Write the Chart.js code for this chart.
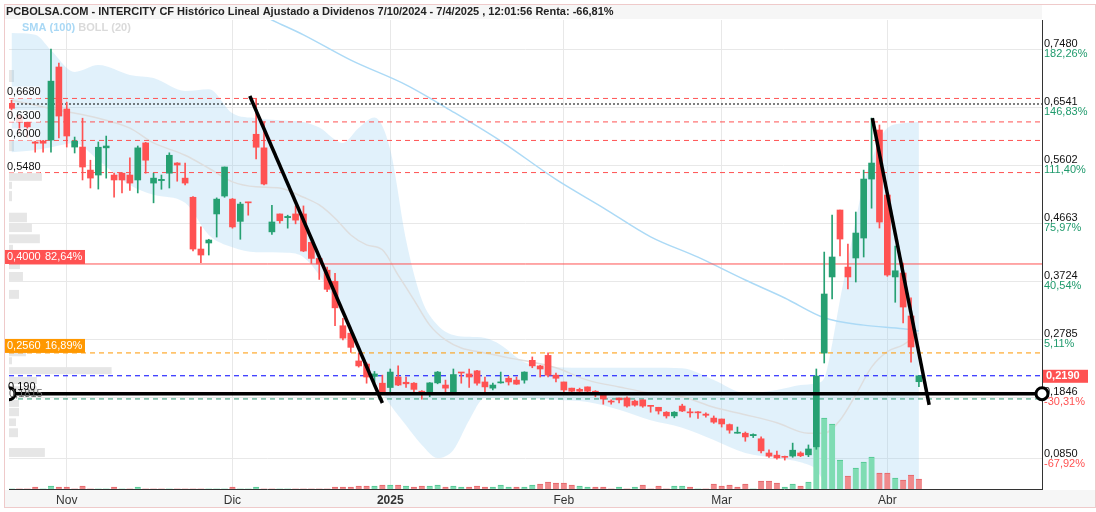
<!DOCTYPE html>
<html>
<head>
<meta charset="utf-8">
<title>INTERCITY - PCBOLSA</title>
<script src="https://cdn.jsdelivr.net/npm/chart.js@4.4.1/dist/chart.umd.min.js"></script>
<style>
  html, body { margin: 0; padding: 0; background: #fff; }
  #wrap { position: relative; width: 1096px; height: 512px; }
</style>
</head>
<body>
<div id="wrap"><canvas id="grafico" width="1096" height="512"></canvas></div>
<script>
// x = indice de sesion (0 = 1 nov 2024), y = precio en euros
var firstDay = -7;

var openP = [0.660,0.640,0.630,0.5975,0.599,0.6007,0.7189,0.6509,0.5893,0.5893,0.552,0.544,0.588,0.544,0.547,0.544,0.536,0.596,0.531,0.535,0.547,0.5635,0.539,0.508,0.4242,0.434,0.481,0.510,0.505,0.469,0.500,0.610,0.588,0.452,0.481,0.475,0.481,0.481,0.435,0.409,0.390,0.372,0.300,0.288,0.243,0.238,0.218,0.207,0.200,0.217,0.2085,0.207,0.194,0.191,0.2075,0.204,0.191,0.2245,0.222,0.227,0.209,0.199,0.2075,0.215,0.212,0.212,0.244,0.235,0.252,0.220,0.209,0.199,0.197,0.201,0.194,0.188,0.1775,0.183,0.183,0.178,0.180,0.1705,0.168,0.160,0.154,0.170,0.1605,0.1605,0.157,0.1505,0.149,0.140,0.126,0.126,0.122,0.117,0.094,0.0905,0.088,0.089,0.094,0.091,0.104,0.2558,0.379,0.4874,0.395,0.4097,0.442,0.5375,0.6169,0.5116,0.379,0.3854,0.3158,0.2094];
var highP = [0.665,0.642,0.631,0.5985,0.600,0.748,0.7253,0.662,0.6055,0.636,0.568,0.5975,0.6071,0.547,0.548,0.572,0.591,0.597,0.547,0.544,0.580,0.564,0.5635,0.509,0.460,0.440,0.507,0.557,0.506,0.500,0.500,0.667,0.630,0.495,0.481,0.479,0.494,0.494,0.436,0.412,0.395,0.385,0.312,0.290,0.256,0.240,0.226,0.220,0.230,0.235,0.217,0.208,0.195,0.208,0.226,0.212,0.230,0.2245,0.230,0.228,0.217,0.207,0.225,0.218,0.217,0.2255,0.2495,0.236,0.256,0.2235,0.209,0.199,0.199,0.201,0.195,0.190,0.180,0.183,0.185,0.1795,0.180,0.171,0.168,0.161,0.161,0.173,0.166,0.161,0.159,0.154,0.149,0.141,0.136,0.128,0.125,0.120,0.099,0.097,0.089,0.110,0.096,0.107,0.230,0.4193,0.4793,0.4874,0.4323,0.4841,0.552,0.6363,0.625,0.515,0.429,0.4016,0.345,0.219];
var lowP = [0.640,0.612,0.605,0.581,0.581,0.581,0.604,0.5893,0.5797,0.536,0.523,0.5213,0.539,0.508,0.515,0.519,0.515,0.547,0.499,0.521,0.523,0.534,0.528,0.421,0.402,0.4145,0.4436,0.508,0.458,0.440,0.479,0.570,0.528,0.448,0.466,0.458,0.465,0.420,0.401,0.375,0.355,0.300,0.277,0.257,0.233,0.207,0.208,0.190,0.191,0.203,0.200,0.190,0.181,0.185,0.206,0.191,0.190,0.207,0.200,0.204,0.191,0.196,0.207,0.204,0.205,0.207,0.232,0.217,0.217,0.209,0.193,0.192,0.190,0.190,0.185,0.173,0.173,0.175,0.168,0.170,0.168,0.160,0.157,0.1505,0.151,0.161,0.152,0.150,0.152,0.142,0.136,0.126,0.126,0.113,0.119,0.094,0.087,0.084,0.0825,0.087,0.088,0.088,0.100,0.2397,0.3433,0.4129,0.3595,0.3708,0.4113,0.4903,0.4582,0.380,0.338,0.3044,0.241,0.2013];
var closeP = [0.652,0.630,0.622,0.5955,0.5955,0.696,0.6395,0.6072,0.599,0.557,0.5391,0.589,0.591,0.536,0.536,0.531,0.588,0.568,0.539,0.537,0.576,0.5602,0.531,0.4242,0.4145,0.4388,0.505,0.557,0.460,0.497,0.499,0.589,0.5295,0.468,0.470,0.477,0.471,0.421,0.409,0.400,0.359,0.329,0.280,0.265,0.235,0.217,0.222,0.191,0.225,0.204,0.206,0.197,0.191,0.2075,0.225,0.199,0.221,0.2235,0.217,0.207,0.201,0.204,0.2085,0.209,0.2055,0.225,0.235,0.230,0.220,0.215,0.196,0.194,0.194,0.194,0.191,0.1814,0.1765,0.180,0.170,0.1715,0.170,0.1695,0.162,0.154,0.160,0.162,0.159,0.159,0.155,0.144,0.141,0.131,0.127,0.120,0.124,0.0975,0.089,0.086,0.087,0.0985,0.0895,0.1005,0.2186,0.3514,0.4113,0.4404,0.379,0.4501,0.5375,0.5634,0.4679,0.3821,0.389,0.3303,0.2656,0.219];
// volumen en miles de titulos
var volK = [0,0,0,20,0,30,20,20,0,30,0,0,0,20,0,0,20,0,0,0,0,0,0,0,0,0,0,0,20,0,0,20,0,0,0,0,0,0,0,0,0,20,20,20,30,30,30,40,40,40,30,20,30,30,40,20,30,20,20,30,20,20,40,20,20,20,40,50,70,60,60,40,30,20,20,20,0,20,0,20,40,0,30,0,30,30,20,0,0,50,30,40,20,50,0,80,80,60,20,50,30,70,1000,710,650,290,130,210,270,320,160,160,110,90,140,100];

var monthIdx = [0, 21, 41, 63, 83, 104];
var monthLbl = ['Nov', 'Dic', '2025', 'Feb', 'Mar', 'Abr'];

var yTicks = [0.748, 0.6541, 0.5602, 0.4663, 0.3724, 0.2785, 0.1846, 0.085];
var yPct = ['182,26%', '146,83%', '111,40%', '75,97%', '40,54%', '5,11%', '-30,31%', '-67,92%'];

// Bandas de Bollinger (20) y SMA (100)
var bandX = [-7,-4,-2,1,4,8,11,15,18,21,24,28,30,32,35,37,39,41,43,45,47,49,51,53,55,58,62,66,70,74,78,82,86,90,93,95,96,97,98,99,100,101,102,103,104,106,108];
var bandUp = [0.774,0.771,0.746,0.711,0.722,0.706,0.701,0.680,0.683,0.644,0.636,0.632,0.630,0.621,0.596,0.620,0.637,0.585,0.439,0.342,0.301,0.285,0.282,0.280,0.269,0.241,0.233,0.232,0.232,0.232,0.231,0.212,0.191,0.196,0.204,0.207,0.215,0.270,0.342,0.406,0.471,0.531,0.568,0.601,0.620,0.628,0.630];
var bandLo = [0.581,0.5845,0.589,0.596,0.568,0.528,0.512,0.499,0.447,0.427,0.419,0.418,0.411,0.382,0.317,0.269,0.212,0.172,0.139,0.107,0.086,0.099,0.147,0.183,0.183,0.183,0.180,0.1765,0.164,0.147,0.135,0.115,0.094,0.086,0.079,0.0665,0.045,0.018,0,-0.02,-0.04,-0.06,-0.07,-0.06,-0.05,-0.04,-0.03];
var midX = [-7,-1,4,8,11,15,18,21,24,27,30,32,34,36,38,40,42,44,46,48,50,53,56,59,62,66,70,74,78,82,86,90,94,96,98,100,102,104,106,108];
var midY = [0.665,0.649,0.636,0.620,0.596,0.576,0.555,0.533,0.525,0.523,0.508,0.4955,0.474,0.447,0.431,0.423,0.382,0.342,0.301,0.277,0.264,0.256,0.248,0.241,0.232,0.212,0.201,0.191,0.185,0.168,0.156,0.143,0.126,0.126,0.147,0.188,0.233,0.258,0.269,0.288];
var smaX = [24,26,30,36,43,49,55,62,68,74,80,86,91,96,101,106,108];
var smaY = [0.808,0.795,0.771,0.730,0.690,0.646,0.599,0.537,0.491,0.444,0.411,0.374,0.345,0.313,0.301,0.295,0.2915];

// perfil de volumen por precio (izquierda)
var profLo = [0.693,0.581,0.533,0.520,0.500,0.466,0.450,0.432,0.419,0.390,0.371,0.342,0.249,0.236,0.220,0.204,0.191,0.167,0.152,0.136,0.118,0.086];
var profHi = [0.714,0.599,0.547,0.533,0.518,0.483,0.466,0.448,0.431,0.402,0.387,0.358,0.257,0.249,0.233,0.217,0.202,0.180,0.167,0.150,0.134,0.102];
var profVol = [5,5,33,3,3,18,23,31,4,11,14,10,17,3,103,28,28,10,10,7,9,36];

// niveles horizontales
var redLevels = [0.668, 0.63, 0.60, 0.548];
var redLabels = ['0,6680', '0,6300', '0,6000', '0,5480'];
var dottedLevel = 0.659;
var supportLevel = 0.40;
var orangeLevel = 0.256;
var lastPrice = 0.219;
var greenLevel = 0.1815;
var blackLevel = 0.190;

// lineas de tendencia dibujadas
var trendA = [{ x: 23.2, y: 0.672 }, { x: 40.0, y: 0.175 }];
var trendB = [{ x: 102.1, y: 0.636 }, { x: 109.3, y: 0.172 }];

var xMin = -7.32, xMax = 123.6;
var yMin = 0.0357, yMax = 0.795;

var UP = '#26a072';
var DOWN = '#ff5252';

Chart.defaults.font.family = "'Liberation Sans', Arial, sans-serif";

var days = openP.map(function (v, i) { return firstDay + i; });

function pts(xs, ys) {
    return xs.map(function (x, i) { return { x: x, y: ys[i] }; });
}

function levelLine(v, color, dash, width) {
    return {
        type: 'line', data: [{ x: xMin, y: v }, { x: xMax, y: v }],
        borderColor: color, borderDash: dash, borderWidth: width || 1,
        pointRadius: 0, order: 5
    };
}

function fmt(v) {
    return v.toFixed(4).replace('.', ',');
}

var fondo = {
    id: 'fondo',
    beforeDraw: function (chart) {
        var c = chart.ctx;
        c.save();
        c.fillStyle = '#fff';
        c.fillRect(0, 0, chart.width, chart.height);
        c.fillStyle = '#f6f6f6';
        c.fillRect(5, 5, 1037, 14);
        c.fillRect(5, 490, 1091, 17);
        c.strokeStyle = '#efcaca';
        c.lineWidth = 1;
        c.strokeRect(4.5, 4.5, 1091, 503);
        c.restore();
    }
};

var perfil = {
    id: 'perfil',
    beforeDatasetsDraw: function (chart) {
        var c = chart.ctx, y = chart.scales.y, xp = chart.scales.xp;
        c.save();
        c.fillStyle = '#e6e6e6';
        profVol.forEach(function (w, k) {
            var y0 = y.getPixelForValue(profHi[k]);
            var y1 = y.getPixelForValue(profLo[k]);
            var x0 = xp.getPixelForValue(0);
            c.fillRect(x0, y0, xp.getPixelForValue(w) - x0, y1 - y0 - 1);
        });
        c.restore();
    }
};

var textos = {
    id: 'textos',
    afterDraw: function (chart) {
        var c = chart.ctx, y = chart.scales.y, area = chart.chartArea;
        c.save();
        c.textBaseline = 'middle';
        c.textAlign = 'left';

        c.font = "bold 11px 'Liberation Sans', Arial, sans-serif";
        c.fillStyle = '#222';
        c.fillText('PCBOLSA.COM - INTERCITY CF Histórico Lineal Ajustado a Dividenos 7/10/2024 - 7/4/2025 , 12:01:56 Renta: -66,81%', 6, 12);

        c.fillStyle = '#a9d8f5';
        c.fillText('SMA (100)', 22, 28);
        var w = c.measureText('SMA (100) ').width;
        c.fillStyle = '#dadada';
        c.fillText('BOLL (20)', 22 + w, 28);

        // etiquetas de niveles a la izquierda
        c.font = "11px 'Liberation Sans', Arial, sans-serif";
        redLevels.forEach(function (v, k) {
            var py = y.getPixelForValue(v) - 6;
            c.fillStyle = 'rgba(255,255,255,0.8)';
            c.fillRect(6, py - 6, 34, 12);
            c.fillStyle = '#111';
            c.fillText(redLabels[k], 7, py);
        });

        var py = y.getPixelForValue(supportLevel);
        c.fillStyle = '#ff5252';
        c.fillRect(5, py - 14, 80, 14);
        c.fillStyle = '#fff';
        c.fillText(fmt(supportLevel), 7, py - 7);
        c.fillText('82,64%', 45, py - 7);

        py = y.getPixelForValue(orangeLevel);
        c.fillStyle = '#ff9800';
        c.fillRect(5, py - 14, 80, 14);
        c.fillStyle = '#fff';
        c.fillText(fmt(orangeLevel), 7, py - 7);
        c.fillText('16,89%', 45, py - 7);

        py = y.getPixelForValue(greenLevel);
        c.fillStyle = '#666';
        c.fillText('0,1815', 9, py - 5);
        py = y.getPixelForValue(blackLevel);
        c.fillStyle = '#000';
        c.fillText('0,190', 8, py - 7);

        // porcentajes del eje derecho
        yTicks.forEach(function (v, k) {
            c.fillStyle = yPct[k].charAt(0) === '-' ? '#ff5252' : '#1f9a6c';
            c.fillText(yPct[k], area.right + 2, y.getPixelForValue(v) + 5);
        });

        // ultimo precio
        py = y.getPixelForValue(lastPrice);
        c.fillStyle = '#ff5252';
        c.fillRect(area.right + 1, py - 6, 45, 13);
        c.fillStyle = '#fff';
        c.font = "bold 11px 'Liberation Sans', Arial, sans-serif";
        c.fillText(fmt(lastPrice), area.right + 4, py + 0.5);
        c.restore();
    }
};

var datasets = [
    {
        type: 'bar', label: 'cuerpo',
        data: days.map(function (d, i) { return { x: d, y: [openP[i], closeP[i]] }; }),
        backgroundColor: function (ctx) { var i = ctx.dataIndex; return closeP[i] >= openP[i] ? UP : DOWN; },
        barThickness: 6, minBarLength: 1, grouped: false, order: 1
    },
    {
        type: 'bar', label: 'mecha',
        data: days.map(function (d, i) { return { x: d, y: [lowP[i], highP[i]] }; }),
        backgroundColor: function (ctx) { var i = ctx.dataIndex; return closeP[i] >= openP[i] ? UP : DOWN; },
        barThickness: 1, grouped: false, order: 2
    },
    {
        type: 'bar', label: 'volumen', yAxisID: 'yv',
        data: days.map(function (d, i) { return { x: d, y: volK[i] }; }),
        backgroundColor: function (ctx) {
            var i = ctx.dataIndex;
            return (i === 0 || closeP[i] >= closeP[i - 1]) ? '#7fdcb3' : '#f08a8c';
        },
        borderColor: function (ctx) {
            var i = ctx.dataIndex;
            return (i === 0 || closeP[i] >= closeP[i - 1]) ? '#4fc690' : '#e56368';
        },
        borderWidth: { top: 1, left: 0, right: 0, bottom: 0 },
        barThickness: 6, grouped: false, order: 6
    },
    {
        type: 'line', label: 'boll sup', data: pts(bandX, bandUp),
        borderWidth: 0, pointRadius: 0, cubicInterpolationMode: 'monotone', order: 10
    },
    {
        type: 'line', label: 'boll inf', data: pts(bandX, bandLo),
        borderWidth: 0, pointRadius: 0, cubicInterpolationMode: 'monotone',
        fill: '-1', backgroundColor: 'rgba(135,200,240,0.25)', order: 10
    },
    {
        type: 'line', label: 'boll media', data: pts(midX, midY),
        borderColor: '#dedede', borderWidth: 1.5, pointRadius: 0, cubicInterpolationMode: 'monotone', order: 8
    },
    {
        type: 'line', label: 'SMA 100', data: pts(smaX, smaY),
        borderColor: '#acdaf6', borderWidth: 1.5, pointRadius: 0, cubicInterpolationMode: 'monotone', order: 8
    },
    levelLine(redLevels[0], '#ff5252', [5, 4]),
    levelLine(redLevels[1], '#ff5252', [5, 4]),
    levelLine(redLevels[2], '#ff5252', [5, 4]),
    levelLine(redLevels[3], '#ff5252', [5, 4]),
    levelLine(dottedLevel, '#000', [2, 2]),
    levelLine(supportLevel, '#ff5252', []),
    levelLine(orangeLevel, '#ff9800', [5, 4]),
    levelLine(lastPrice, '#0000ff', [5, 4]),
    levelLine(greenLevel, '#2a9a70', [5, 4]),
    {
        type: 'line', label: 'soporte', data: [{ x: xMin, y: blackLevel }, { x: xMax, y: blackLevel }],
        borderColor: '#000', borderWidth: 3.5,
        pointRadius: 6, pointBorderWidth: 3, pointBorderColor: '#000', pointBackgroundColor: '#fff',
        clip: { left: 0, top: 5, right: 12, bottom: 5 }, order: 0
    },
    {
        type: 'line', label: 'tendencia 1', data: trendA,
        borderColor: '#000', borderWidth: 3.5, pointRadius: 0, order: 0
    },
    {
        type: 'line', label: 'tendencia 2', data: trendB,
        borderColor: '#000', borderWidth: 3.5, pointRadius: 0, order: 0
    }
];

var grafico = new Chart(document.getElementById('grafico'), {
    type: 'bar',
    data: { datasets: datasets },
    plugins: [fondo, perfil, textos],
    options: {
        responsive: false,
        animation: false,
        events: [],
        layout: { padding: { top: 20, left: 5, right: 0, bottom: 0 } },
        plugins: { legend: { display: false }, tooltip: { enabled: false } },
        scales: {
            x: {
                type: 'linear', min: xMin, max: xMax, offset: false,
                afterBuildTicks: function (s) { s.ticks = monthIdx.map(function (v) { return { value: v }; }); },
                afterFit: function (s) { s.height = 23; },
                ticks: {
                    autoSkip: false, maxRotation: 0, padding: 4, color: '#333',
                    callback: function (v) { return monthLbl[monthIdx.indexOf(v)]; },
                    font: function (ctx) {
                        return { size: 12, weight: (ctx.tick && ctx.tick.value === 41) ? 'bold' : 'normal' };
                    }
                },
                grid: { color: '#e8e8e8', drawTicks: false, offset: false },
                border: { color: '#333' }
            },
            y: {
                position: 'right', min: yMin, max: yMax,
                afterBuildTicks: function (s) { s.ticks = yTicks.map(function (v) { return { value: v }; }); },
                afterFit: function (s) { s.width = 54; },
                ticks: { callback: fmt, color: '#111', padding: 2, labelOffset: -5, font: { size: 11 } },
                grid: { color: '#e8e8e8', drawTicks: false },
                border: { color: '#333' }
            },
            yv: { display: false, min: 0, max: 4690 },
            xp: { display: false, type: 'linear', min: 0, max: 1037, offset: false, grid: { offset: false } }
        }
    }
});
</script>
</body>
</html>
